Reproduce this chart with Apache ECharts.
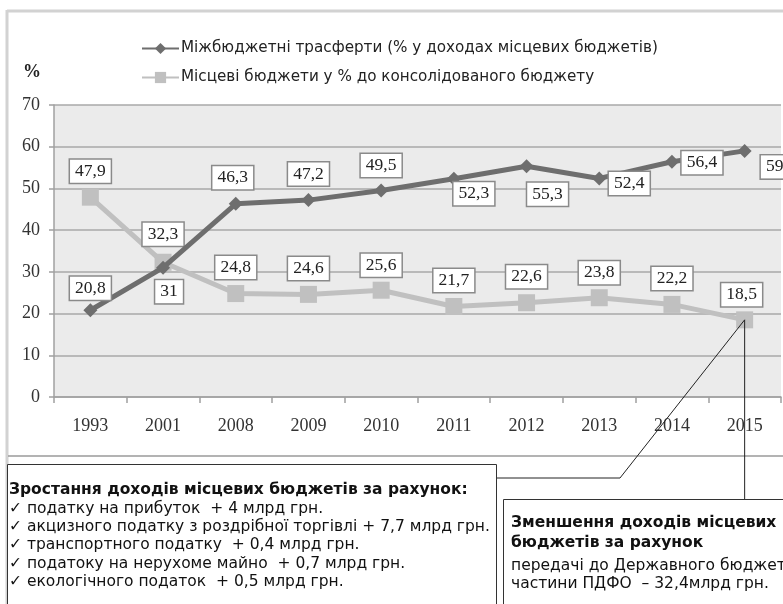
<!DOCTYPE html>
<html><head><meta charset="utf-8">
<script src="https://cdn.jsdelivr.net/npm/echarts@6/dist/echarts.min.js"></script>
<style>html,body{margin:0;padding:0;background:#fff}#c{width:783px;height:604px}</style>
</head><body><div id="c"></div>
<script>
var categories = ['1993','2001','2008','2009','2010','2011','2012','2013','2014','2015'];
var transfers = [20.8, 31, 46.3, 47.2, 49.5, 52.3, 55.3, 52.4, 56.4, 59];
var localShare = [47.9, 32.3, 24.8, 24.6, 25.6, 21.7, 22.6, 23.8, 22.2, 18.5];
var yTicks = [0, 10, 20, 30, 40, 50, 60, 70];
var seriesNames = ['Міжбюджетні трасферти (% у доходах місцевих бюджетів)', 'Місцеві бюджети у % до консолідованого бюджету'];
var leftBoxTitle = 'Зростання доходів місцевих бюджетів за рахунок:';
var leftBoxLines = ['✓ податку на прибуток  + 4 млрд грн.', '✓ акцизного податку з роздрібної торгівлі + 7,7 млрд грн.', '✓ транспортного податку  + 0,4 млрд грн.', '✓ податоку на нерухоме майно  + 0,7 млрд грн.', '✓ екологічного податок  + 0,5 млрд грн.'];
var rightBoxTitle = ['Зменшення доходів місцевих', 'бюджетів за рахунок'];
var rightBoxLines = ['передачі до Державного бюджету', 'частини ПДФО  – 32,4млрд грн.'];

var transferOffsets = [[0,-22],[6,24],[-3,-26],[0,-26],[0,-25],[20,15],[21,28],[30,5],[30,1],[30,16]];
var localOffsets = [[0,-26],[0,-28],[0,-26],[0,-26],[0,-25],[0,-26],[0,-26],[0,-25],[0,-26],[-3,-25]];

function fmt(v){ return String(v).replace('.', ','); }
var labelBase = {
  show: true, position: 'inside', fontFamily: 'Liberation Serif', fontSize: 17.5, color: '#222',
  backgroundColor: '#fff', borderColor: '#8a8a8a', borderWidth: 1.5, padding: [3, 5, 2, 5],
  formatter: function(p){ return fmt(p.value); }
};
function mkData(vals, offs){
  return vals.map(function(v, i){ return { value: v, label: { offset: offs[i] } }; });
}

var chart = echarts.init(document.getElementById('c'));
var option = {
  animation: false,
  backgroundColor: '#fff',
  grid: { left: 54, right: 2, top: 105, bottom: 207, show: true, backgroundColor: '#ebebeb', borderWidth: 0 },
  legend: {
    orient: 'vertical', left: 136, top: 36, itemWidth: 37, itemHeight: 14, itemGap: 14,
    textStyle: { fontFamily: 'DejaVu Sans', fontSize: 15.2, color: '#222', padding: [0,0,0,-3] },
    data: seriesNames
  },
  xAxis: {
    type: 'category', data: categories, boundaryGap: true,
    axisLine: { lineStyle: { color: '#a0a0a0', width: 1.5 } },
    axisTick: { show: true, length: 6, lineStyle: { color: '#a0a0a0', width: 1.5 } },
    axisLabel: { fontFamily: 'Liberation Serif', fontSize: 18, color: '#333', margin: 20 }
  },
  yAxis: {
    type: 'value', min: yTicks[0], max: yTicks[yTicks.length-1], interval: 10,
    axisLine: { show: true, lineStyle: { color: '#a0a0a0', width: 1.5 } },
    axisTick: { show: true, length: 5, lineStyle: { color: '#a0a0a0', width: 1.5 } },
    splitLine: { lineStyle: { color: '#a8a8a8', width: 1.5 } },
    axisLabel: { fontFamily: 'Liberation Serif', fontSize: 18, color: '#333', margin: 14 }
  },
  series: [
    { name: seriesNames[0], type: 'line', data: mkData(transfers, transferOffsets),
      symbol: 'diamond', symbolSize: 14, lineStyle: { color: '#6e6e6e', width: 5 },
      itemStyle: { color: '#6e6e6e' }, label: labelBase, z: 3 },
    { name: seriesNames[1], type: 'line', data: mkData(localShare, localOffsets),
      symbol: 'rect', symbolSize: 17, lineStyle: { color: '#c0c0c0', width: 5 },
      itemStyle: { color: '#c0c0c0' }, label: labelBase, z: 2 }
  ]
};
chart.setOption(option);

var pt = chart.convertToPixel({ seriesIndex: 1 }, [categories.length - 1, localShare[localShare.length - 1]]);
var g = [];
g.push({ type: 'line', shape: { x1: 7, y1: 11, x2: 783, y2: 11 }, style: { stroke: '#d2d2d2', lineWidth: 3 }, z: 0 });
g.push({ type: 'line', shape: { x1: 7, y1: 10, x2: 7, y2: 604 }, style: { stroke: '#d2d2d2', lineWidth: 3 }, z: 0 });
g.push({ type: 'line', shape: { x1: 8, y1: 456, x2: 783, y2: 456 }, style: { stroke: '#9a9a9a', lineWidth: 1.5 }, z: 0 });
g.push({ type: 'text', left: 23, top: 63, style: { text: '%', font: 'bold 18px "Liberation Serif"', fill: '#222' } });
g.push({ type: 'polyline', shape: { points: [[497, 478], [620, 478], [pt[0], pt[1]]] }, style: { stroke: '#222', lineWidth: 1, fill: null }, z: 10 });
g.push({ type: 'line', shape: { x1: pt[0], y1: pt[1], x2: pt[0], y2: 499 }, style: { stroke: '#222', lineWidth: 1 }, z: 10 });
g.push({ type: 'rect', shape: { x: 7.5, y: 464.5, width: 489, height: 150 }, style: { fill: '#fff', stroke: '#333', lineWidth: 1 }, z: 11 });
g.push({ type: 'text', x: 9, y: 490, z: 12, style: { text: leftBoxTitle, font: 'bold 15.5px "DejaVu Sans"', fill: '#111', verticalAlign: 'middle' } });
leftBoxLines.forEach(function(t, i){
  g.push({ type: 'text', x: 9, y: 509 + i * 18.2, z: 12, style: { text: t, font: '15.5px "DejaVu Sans"', fill: '#111', verticalAlign: 'middle' } });
});
g.push({ type: 'rect', shape: { x: 503.5, y: 499.5, width: 300, height: 120 }, style: { fill: '#fff', stroke: '#333', lineWidth: 1 }, z: 11 });
rightBoxTitle.forEach(function(t, i){
  g.push({ type: 'text', x: 511, y: 523 + i * 20, z: 12, style: { text: t, font: 'bold 15.5px "DejaVu Sans"', fill: '#111', verticalAlign: 'middle' } });
});
rightBoxLines.forEach(function(t, i){
  g.push({ type: 'text', x: 511, y: 566 + i * 18, z: 12, style: { text: t, font: '15.5px "DejaVu Sans"', fill: '#111', verticalAlign: 'middle' } });
});
chart.setOption({ graphic: g });
</script></body></html>
